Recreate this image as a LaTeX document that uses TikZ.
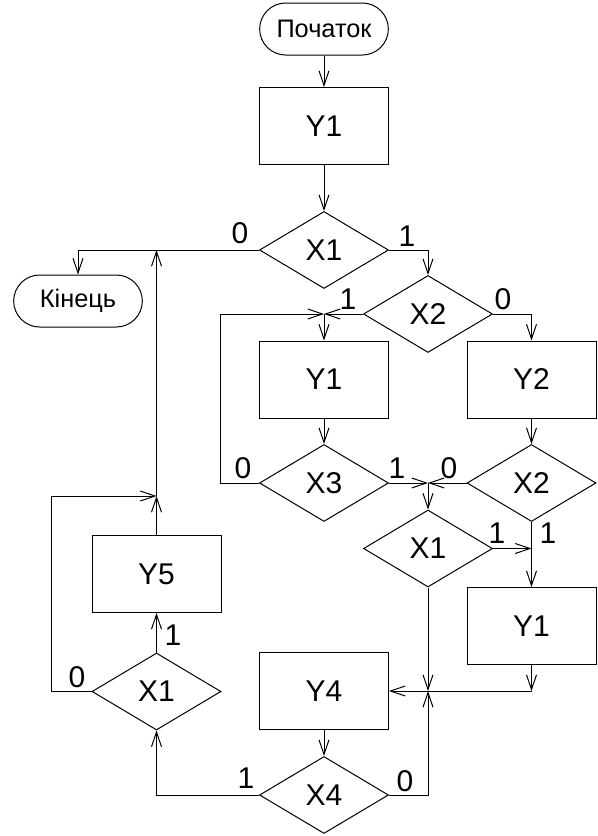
\documentclass[tikz,border=0pt]{standalone}
\usepackage{fontspec}
\setmainfont{Liberation Sans}
\usetikzlibrary{arrows.meta,shapes.geometric}

\tikzset{
	proc/.style={draw, rectangle, minimum width=96.75pt, minimum height=57.75pt, inner sep=0pt, font=\fontsize{22.5}{27}\selectfont},
	cond/.style={draw, diamond, minimum width=96.75pt, minimum height=57.75pt, inner sep=0pt, font=\fontsize{22.5}{27}\selectfont},
	term/.style={draw, rectangle, rounded corners=19.5pt, minimum width=96.5pt, minimum height=39pt, inner sep=0pt, font=\fontsize{19}{23}\selectfont},
	lbl/.style={inner sep=0pt, font=\fontsize{22.5}{27}\selectfont},
}

\begin{document}
\begin{tikzpicture}[x=0.75pt, y=-0.75pt, line width=0.75pt, >={Straight Barb[length=11pt,width=7.5pt]}]
	\useasboundingbox (0,0) rectangle (598,836);

	% Nodes {start, end, Y.., X..}
	\node [term] 	(start)	at (324,29)  	{Початок};
	\node [proc] 	(y1a) 	at (324,126) 	{Y1};
	\node [cond] 	(x1a) 	at (324,250) 	{X1};
	\node [term] 	(stop) 	at (78,301)  	{Кінець};
	\node [cond] 	(x2a) 	at (428,314) 	{X2};
	\node [proc] 	(y1b) 	at (324,379.5) 	{Y1};
	\node [proc] 	(y2)  	at (531.5,379.5) {Y2};
	\node [cond] 	(x3)  	at (324,483) 	{X3};
	\node [cond] 	(x2b) 	at (531.5,483) 	{X2};
	\node [cond] 	(x1b) 	at (428,548.5) 	{X1};
	\node [proc] 	(y1c) 	at (531.5,626) 	{Y1};
	\node [proc] 	(y5)  	at (156.5,574) 	{Y5};
	\node [cond] 	(x1c) 	at (156.5,691.5) {X1};
	\node [proc] 	(y4)  	at (324,691) 	{Y4};
	\node [cond] 	(x4)  	at (324,795) 	{X4};

	% Junctions
	\coordinate (j1) at (y1b.north |- x2a.west);
	\coordinate (j2) at (x1b.north |- x3.east);
	\coordinate (j3) at (y1c.south |- y4.east);
	\coordinate (j4) at (x1b.south |- y4.east);
	\coordinate (j5) at (y5.north |- 0,496);
	\coordinate (j6) at (y5.north |- x1a.west);

	% Labels
	\node [lbl] (l1)  at (407,236) {1};
	\node [lbl] (l2)  at (240,233) {0};
	\node [lbl] (l3)  at (348,299) {1};
	\node [lbl] (l4)  at (503,299) {0};
	\node [lbl] (l5)  at (243,468) {0};
	\node [lbl] (l6)  at (397,468) {1};
	\node [lbl] (l7)  at (449,468) {0};
	\node [lbl] (l8)  at (497,533) {1};
	\node [lbl] (l9)  at (548,533) {1};
	\node [lbl] (l10) at (405,781) {0};
	\node [lbl] (l11) at (246,778) {1};
	\node [lbl] (l12) at (173,635) {1};
	\node [lbl] (l13) at (77,677)  {0};

	% Paths
	\draw [->] (start) -- (y1a);
	\draw [->] (y1a) -- (x1a);
	\draw [->] (x1a.east) -| (x2a.north);
	\draw [->] (x1a.west) -| (stop.north);
	\draw [->] (x2a.west) -- (j1);
	\draw [->] (x3.west) -- ++(-39,0) |- (j1);
	\draw [->] (j1) -- (y1b);
	\draw [->] (x2a.east) -| (y2.north);
	\draw [->] (y1b) -- (x3);
	\draw [->] (y2) -- (x2b);
	\draw [->] (x3.east) -- (j2);
	\draw [->] (x2b.west) -- (j2);
	\draw [->] (j2) -- (x1b.north);
	\draw [->] (x1b.east) -- (x1b.east -| y1c.north);
	\draw [->] (x2b.south) -- (y1c.north);
	\draw [->] (y1c.south) -- (j3);
	\draw [->] (j3) -- (y4.east);
	\draw [->] (x1b.south) -- (j4);
	\draw [->] (x4.east) -| (j4);
	\draw [->] (y4) -- (x4);
	\draw [->] (x4.west) -| (x1c.south);
	\draw [->] (x1c.north) -- (y5.south);
	\draw [->] (x1c.west) -- ++(-40,0) |- (j5);
	\draw [->] (y5.north) -- (j5);
	\draw [->] (j5) -- (j6);

\end{tikzpicture}
\end{document}
